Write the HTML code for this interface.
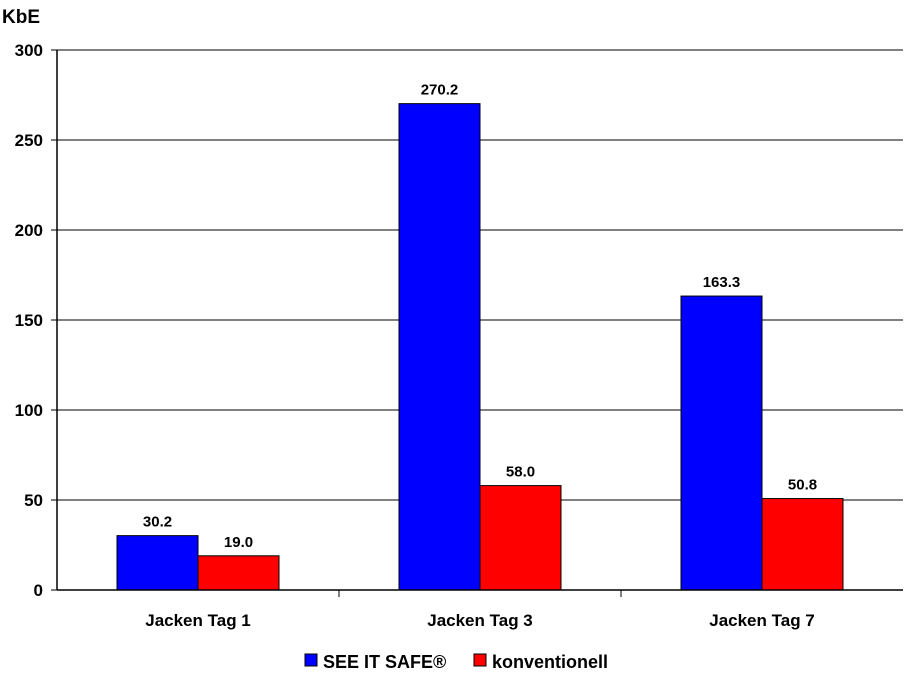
<!DOCTYPE html>
<html><head><meta charset="utf-8"><style>
body{margin:0;background:#fff;}
svg text{font-family:"Liberation Sans",Arial,sans-serif;font-weight:bold;fill:#000;}
</style></head><body>
<svg width="908" height="674" xmlns="http://www.w3.org/2000/svg">
<g id="grid"></g>
<g id="bars"></g>
<g id="axes"></g>
<text x="2" y="23" font-size="19">KbE</text>
<g>
<rect x="305" y="654" width="12" height="12" fill="#0000ff" stroke="#000"/>
<text x="323" y="668" font-size="18">SEE IT SAFE®</text>
<rect x="474" y="654" width="12" height="12" fill="#ff0000" stroke="#000"/>
<text x="492" y="668" font-size="18">konventionell</text>
</g>
</svg>
<script>
const categories=["Jacken Tag 1","Jacken Tag 3","Jacken Tag 7"];
const seeItSafe=[30.2,270.2,163.3];
const konventionell=[19.0,58.0,50.8];
const yTicks=[0,50,100,150,200,250,300];
const NS="http://www.w3.org/2000/svg";
const x0=57,x1=903,y0=590,y1=50,yMax=300;
const y=v=>y0-(v/yMax)*(y0-y1);
const catW=(x1-x0)/categories.length;
function mk(tag,attrs,parent,txt){const e=document.createElementNS(NS,tag);for(const k in attrs)e.setAttribute(k,attrs[k]);if(txt!==undefined)e.textContent=txt;parent.appendChild(e);return e;}
const grid=document.getElementById('grid'),bars=document.getElementById('bars'),axes=document.getElementById('axes');
yTicks.forEach(t=>{
  if(t>0){const l=mk('line',{x1:x0,x2:x1,y1:y(t),y2:y(t),stroke:'#000','stroke-width':1},grid);
  
  }
  const tk=mk('line',{x1:x0-6,x2:x0,y1:y(t),y2:y(t),stroke:'#000'},axes);
  
  
  const tl=mk('text',{x:x0-14,y:y(t)+6,'font-size':17,'text-anchor':'end'},axes,String(t));
  
  
});
const bw=81,off=60;
categories.forEach((c,i)=>{
  const cx=x0+i*catW;
  [[seeItSafe,'#0000ff','see-it-safe'],[konventionell,'#ff0000','konventionell']].forEach((s,j)=>{
    const v=s[0][i],bx=cx+off+j*bw;
    const r=mk('rect',{x:bx,y:y(v),width:bw,height:y0-y(v),fill:s[1],stroke:'#000','stroke-width':1},bars);
    
    
    const t=mk('text',{x:bx+bw/2,y:y(v)-9,'font-size':15,'text-anchor':'middle'},bars,v.toFixed(1));
    
    
  });
  const cl=mk('text',{x:cx+catW/2,y:626,'font-size':17,'text-anchor':'middle'},axes,c);
  
  
  if(i>0){const tk=mk('line',{x1:cx,x2:cx,y1:y0,y2:y0+7,stroke:'#000'},axes);
  
  }
});
const ya=mk('line',{x1:x0,x2:x0,y1:y1,y2:y0,stroke:'#000','stroke-width':1.5},axes);


const xa=mk('line',{x1:x0,x2:x1,y1:y0,y2:y0,stroke:'#000','stroke-width':1.5},axes);


</script>
</body></html>
